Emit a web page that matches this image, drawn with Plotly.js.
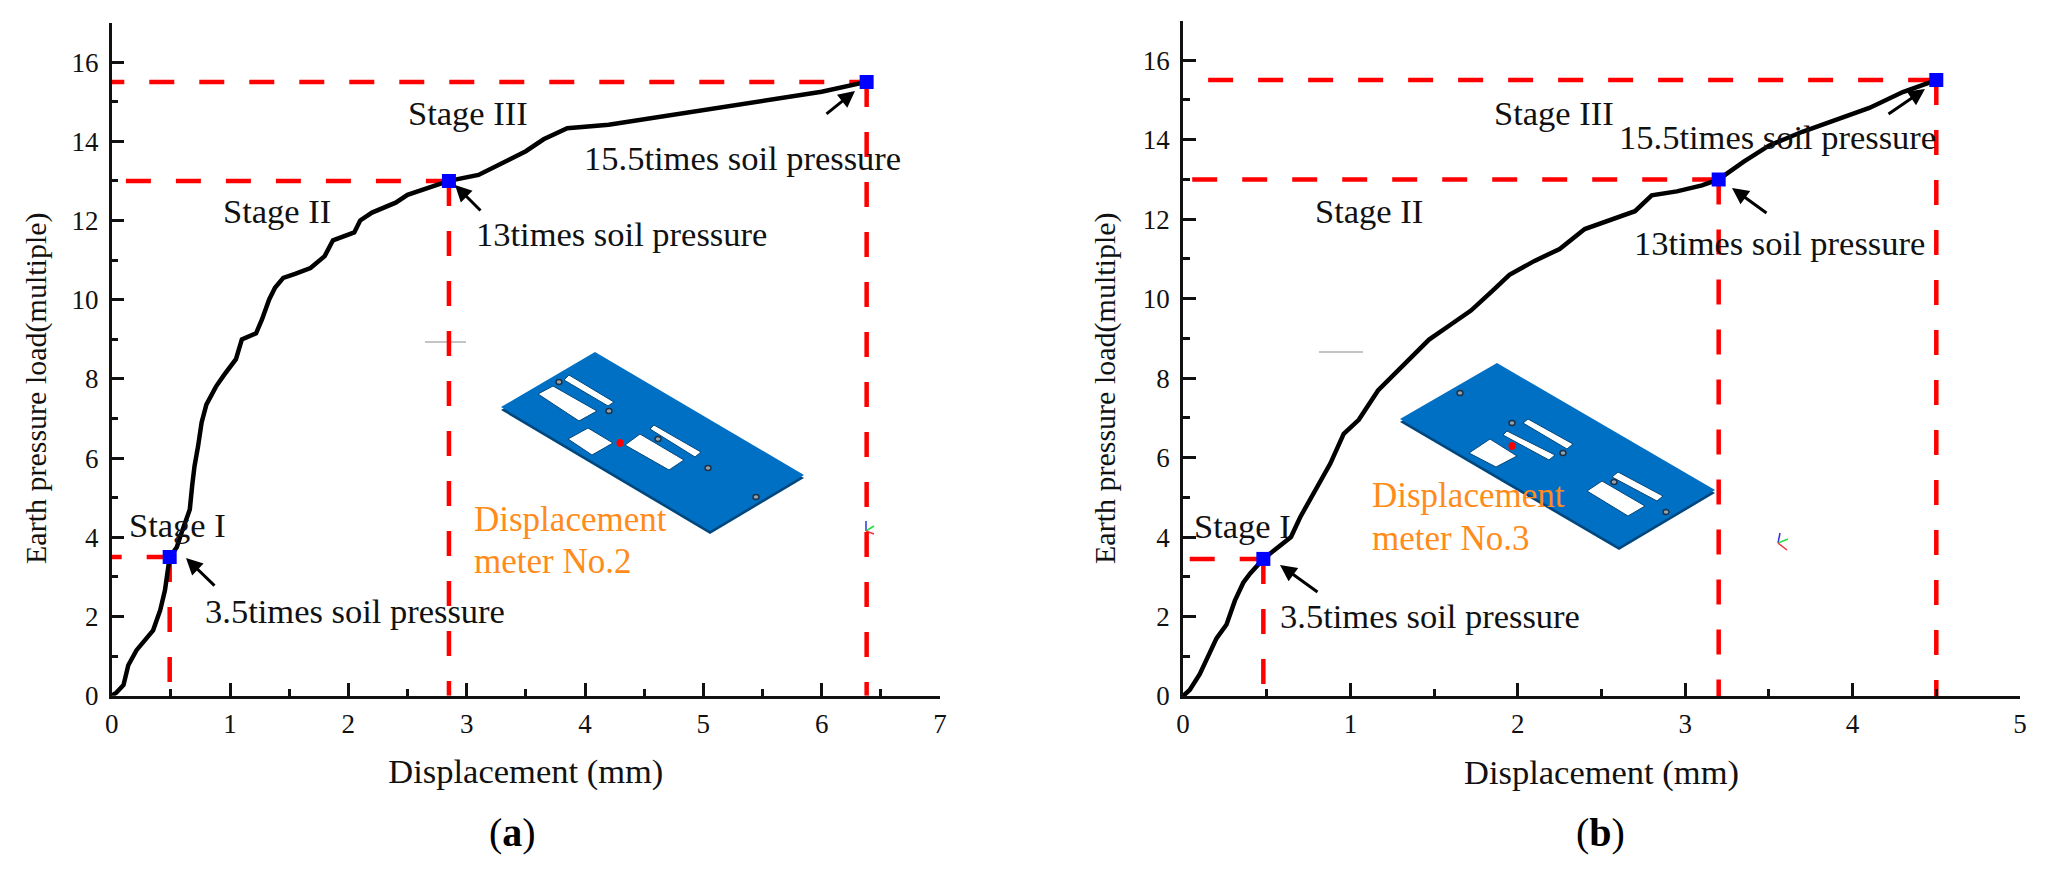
<!DOCTYPE html>
<html>
<head>
<meta charset="utf-8">
<script src="https://cdn.plot.ly/plotly-3.0.1.min.js"></script>
<style>
  html, body { margin: 0; padding: 0; background: #fff; }
  #chart { width: 2047px; height: 869px; }
</style>
</head>
<body>
<div id="chart"></div>
<script>
// panel (a) curve
const curveAx = [0, 0.04, 0.1, 0.14, 0.21, 0.28, 0.35, 0.41, 0.45, 0.49, 0.55, 0.6, 0.66, 0.68, 0.7, 0.73, 0.76, 0.8, 0.88, 0.95, 1.0, 1.05, 1.1, 1.22, 1.27, 1.33, 1.38, 1.45, 1.55, 1.68, 1.8, 1.87, 2.05, 2.1, 2.2, 2.4, 2.5, 2.7, 2.85, 3.1, 3.3, 3.5, 3.65, 3.85, 4.2, 4.6, 5, 5.5, 6, 6.38];
const curveAy = [0, 0.08, 0.27, 0.77, 1.15, 1.4, 1.65, 2.16, 2.66, 3.5, 3.75, 4.2, 4.7, 5.3, 5.8, 6.3, 6.9, 7.35, 7.8, 8.1, 8.3, 8.5, 9.0, 9.15, 9.5, 10.0, 10.3, 10.55, 10.65, 10.8, 11.1, 11.5, 11.7, 12.0, 12.2, 12.45, 12.65, 12.85, 13, 13.15, 13.45, 13.75, 14.05, 14.33, 14.42, 14.6, 14.8, 15, 15.25, 15.5];
const markAx = [0.49, 2.85, 6.38];
const markAy = [3.5, 13, 15.5];
const guideStartAx = [-0.127, 0.12, -0.105];

// panel (b) curve
const curveBx = [0, 0.04, 0.1, 0.15, 0.2, 0.26, 0.31, 0.36, 0.4, 0.48, 0.57, 0.645, 0.7, 0.82, 0.88, 0.96, 1.05, 1.165, 1.25, 1.35, 1.47, 1.6, 1.72, 1.85, 1.95, 2.1, 2.25, 2.4, 2.6, 2.7, 2.8, 2.95, 3.1, 3.2, 3.35, 3.5, 3.7, 3.9, 4.1, 4.3, 4.5];
const curveBy = [0, 0.15, 0.55, 1.0, 1.45, 1.8, 2.4, 2.85, 3.08, 3.45, 3.74, 4.0, 4.5, 5.42, 5.85, 6.6, 6.95, 7.69, 8.05, 8.45, 8.97, 9.35, 9.7, 10.2, 10.6, 10.95, 11.25, 11.75, 12.05, 12.2, 12.6, 12.7, 12.85, 13, 13.45, 13.85, 14.2, 14.5, 14.8, 15.2, 15.5];
const markBx = [0.48, 3.2, 4.5];
const markBy = [3.45, 13, 15.5];
const guideStartBx = [0.04, 0.055, 0.15];

const yTicks = [0, 2, 4, 6, 8, 10, 12, 14, 16];
const xTicksA = [0, 1, 2, 3, 4, 5, 6, 7];
const xTicksB = [0, 1, 2, 3, 4, 5];

// [text, x px, y px]
const labelsA = [
  ['Stage III', 468, 113],
  ['Stage II', 277, 211],
  ['Stage I', 177, 525],
  ['15.5times soil pressure', 742, 158],
  ['13times soil pressure', 621, 234],
  ['3.5times soil pressure', 355, 611],
];
const labelsB = [
  ['Stage III', 1554, 113],
  ['Stage II', 1369, 211],
  ['Stage I', 1242, 526],
  ['15.5times soil pressure', 1777, 137],
  ['13times soil pressure', 1779, 243],
  ['3.5times soil pressure', 1430, 616],
];
const orangeLabels = [
  ['Displacement', 472, 519],
  ['meter No.2', 472, 561],
  ['Displacement', 1370, 495],
  ['meter No.3', 1370, 538],
];
// [head x, head y, tail x, tail y] in px
const arrows = [
  [855, 91, 825, 115],
  [455, 185, 482, 212],
  [186, 558, 216, 587],
  [1925, 89, 1887, 115],
  [1732, 188, 1768, 214],
  [1280, 565, 1319, 593],
];

// plates, px outlines
const plateOutlines = [
  [[595, 352], [804, 475], [710, 531], [501, 407]],
  [[1497, 363], [1715, 490], [1619, 547], [1400, 419]],
];
const plateCuts = [
  [[569, 375], [614, 402], [608, 406], [564, 380]],
  [[553, 386], [597, 411], [579, 421], [538, 394]],
  [[588, 428], [613, 443], [592, 455], [568, 439]],
  [[640, 434], [684, 460], [669, 470], [625, 445]],
  [[654, 425], [701, 452], [695, 457], [650, 429]],
  [[1490, 439], [1517, 456], [1496, 467], [1469, 453]],
  [[1507, 431], [1555, 455], [1549, 460], [1503, 435]],
  [[1528, 419], [1573, 444], [1567, 449], [1523, 423]],
  [[1618, 472], [1663, 496], [1657, 501], [1612, 477]],
  [[1602, 481], [1645, 506], [1628, 516], [1587, 491]],
];
const plateHoles = [[559, 382], [609, 411], [658, 439], [708, 468], [756, 497], [1460, 393], [1512, 423], [1563, 453], [1614, 482], [1666, 512]];
const redDots = [[620, 443], [1512, 446]];
const greyMarks = [[425, 466, 342], [1319, 1363, 352]];
// [base x, base y, blue, green, red]
const triads = [
  [866, 531, [866, 521], [874, 526], [874, 534]],
  [1778, 543, [1780, 533], [1788, 539], [1787, 550]],
];
// [text, x px, y px]
const yTitles = [
  ['Earth pressure load(multiple)', 36, 388],
  ['Earth pressure load(multiple)', 1105, 388],
];

const W = 2047, H = 869;
const fx = x => x / W;
const fy = y => 1 - y / H;
const serif = 'Liberation Serif';

function polyPath(pts, dy) {
  return 'M' + pts.map(p => fx(p[0]) + ',' + fy(p[1] + (dy || 0))).join('L') + 'Z';
}

function panelTraces(cx, cy, mx, my, starts, xa, ya) {
  const traces = [];
  mx.forEach((x, i) => {
    traces.push({
      x: [starts[i], x], y: [my[i], my[i]], xaxis: xa, yaxis: ya, mode: 'lines',
      line: { color: '#ff0000', width: 4.5, dash: '25px,25px' },
    });
    traces.push({
      x: [x, x], y: [my[i], 0], xaxis: xa, yaxis: ya, mode: 'lines',
      line: { color: '#ff0000', width: 4.5, dash: '25px,25px' },
    });
  });
  traces.push({
    x: cx, y: cy, xaxis: xa, yaxis: ya, mode: 'lines',
    line: { color: '#000000', width: 4.5 },
  });
  traces.push({
    x: mx, y: my, xaxis: xa, yaxis: ya, mode: 'markers',
    marker: { color: '#0000ff', symbol: 'square', size: 14 },
  });
  return traces;
}

const data = [
  ...panelTraces(curveAx, curveAy, markAx, markAy, guideStartAx, 'x', 'y'),
  ...panelTraces(curveBx, curveBy, markBx, markBy, guideStartBx, 'x2', 'y2'),
];

const shapes = [];
plateOutlines.forEach(p => {
  shapes.push({ type: 'path', xref: 'paper', yref: 'paper', layer: 'below', path: polyPath(p, 3), fillcolor: '#00477d', line: { width: 0 } });
  shapes.push({ type: 'path', xref: 'paper', yref: 'paper', layer: 'below', path: polyPath(p), fillcolor: '#0070c4', line: { width: 0 } });
});
plateCuts.forEach(p => {
  shapes.push({ type: 'path', xref: 'paper', yref: 'paper', layer: 'below', path: polyPath(p), fillcolor: '#ffffff', line: { width: 1, color: '#00477d' } });
});
plateHoles.forEach(p => {
  shapes.push({
    type: 'circle', xref: 'paper', yref: 'paper', layer: 'below',
    x0: fx(p[0] - 3), x1: fx(p[0] + 3), y0: fy(p[1] + 2.5), y1: fy(p[1] - 2.5),
    fillcolor: '#8fa3b3', line: { width: 1.4, color: '#1f3042' },
  });
});
redDots.forEach(p => {
  shapes.push({
    type: 'circle', xref: 'paper', yref: 'paper', layer: 'below',
    x0: fx(p[0] - 3.5), x1: fx(p[0] + 3.5), y0: fy(p[1] + 4), y1: fy(p[1] - 4),
    fillcolor: '#ff0000', line: { width: 0 },
  });
});
greyMarks.forEach(g => {
  shapes.push({
    type: 'line', xref: 'paper', yref: 'paper', layer: 'below',
    x0: fx(g[0]), x1: fx(g[1]), y0: fy(g[2]), y1: fy(g[2]),
    line: { width: 2, color: '#c4c4c4' },
  });
});
triads.forEach(t => {
  [[t[2], '#3333dd'], [t[3], '#22dd44'], [t[4], '#ee3344']].forEach(arm => {
    shapes.push({
      type: 'line', xref: 'paper', yref: 'paper', layer: 'below',
      x0: fx(t[0]), y0: fy(t[1]), x1: fx(arm[0][0]), y1: fy(arm[0][1]),
      line: { width: 1.5, color: arm[1] },
    });
  });
});

const annotations = [];
[...labelsA, ...labelsB].forEach(l => {
  annotations.push({
    text: l[0], xref: 'paper', yref: 'paper', x: fx(l[1]), y: fy(l[2]),
    xanchor: 'center', yanchor: 'middle', showarrow: false,
    font: { family: serif, size: 34.5, color: '#111111' },
  });
});
orangeLabels.forEach(l => {
  annotations.push({
    text: l[0], xref: 'paper', yref: 'paper', x: fx(l[1]), y: fy(l[2]),
    xanchor: 'left', yanchor: 'middle', showarrow: false,
    font: { family: serif, size: 35, color: '#ff8c1a' },
  });
});
yTitles.forEach(t => {
  annotations.push({
    text: t[0], xref: 'paper', yref: 'paper', x: fx(t[1]), y: fy(t[2]), textangle: -90,
    xanchor: 'center', yanchor: 'middle', showarrow: false,
    font: { family: serif, size: 30, color: '#111111' },
  });
});
arrows.forEach(a => {
  annotations.push({
    text: '', xref: 'paper', yref: 'paper', x: fx(a[0]), y: fy(a[1]),
    axref: 'pixel', ayref: 'pixel', ax: a[2] - a[0], ay: a[3] - a[1],
    showarrow: true, arrowhead: 2, arrowsize: 1.1, arrowwidth: 3, arrowcolor: '#000000', standoff: 0,
  });
});
annotations.push({ text: '(<b>a</b>)', xref: 'paper', yref: 'paper', x: fx(512), y: fy(832), xanchor: 'center', yanchor: 'middle', showarrow: false, font: { family: serif, size: 40, color: '#000000' } });
annotations.push({ text: '(<b>b</b>)', xref: 'paper', yref: 'paper', x: fx(1600), y: fy(832), xanchor: 'center', yanchor: 'middle', showarrow: false, font: { family: serif, size: 40, color: '#000000' } });

function xAxis(domain, max, ticks, anchor) {
  return {
    domain, anchor, range: [0, max], tickvals: ticks, ticktext: ticks.map(String),
    showgrid: false, zeroline: false, showline: true, linecolor: '#111111', linewidth: 2.5,
    ticks: 'inside', ticklen: 13, tickwidth: 2.5, tickcolor: '#111111',
    ticklabelstandoff: 2,
    minor: { dtick: 0.5, ticks: 'inside', ticklen: 7, tickwidth: 2.5, tickcolor: '#111111', showgrid: false },
    tickfont: { family: serif, size: 27, color: '#111111' },
    title: { text: 'Displacement (mm)', standoff: 22, font: { family: serif, size: 34.5, color: '#111111' } },
  };
}
function yAxis(domain, anchor) {
  return {
    domain, anchor, range: [0, 17], tickvals: yTicks, ticktext: yTicks.map(String),
    showgrid: false, zeroline: false, showline: true, linecolor: '#111111', linewidth: 2.5,
    ticks: 'inside', ticklen: 13, tickwidth: 2.5, tickcolor: '#111111',
    ticklabelstandoff: 5,
    minor: { dtick: 1, ticks: 'inside', ticklen: 7, tickwidth: 2.5, tickcolor: '#111111', showgrid: false },
    tickfont: { family: serif, size: 27, color: '#111111' },
  };
}

const layout = {
  width: W,
  height: H,
  margin: { l: 0, r: 0, t: 0, b: 0 },
  paper_bgcolor: '#ffffff',
  plot_bgcolor: 'rgba(0,0,0,0)',
  showlegend: false,
  xaxis: xAxis([fx(111.7), fx(940)], 7, xTicksA, 'y'),
  yaxis: yAxis([fy(695.7), fy(22.5)], 'x'),
  xaxis2: xAxis([fx(1183), fx(2020)], 5, xTicksB, 'y2'),
  yaxis2: yAxis([fy(696), fy(20.5)], 'x2'),
  shapes,
  annotations,
};

Plotly.newPlot('chart', data, layout, { displayModeBar: false, responsive: false });
</script>
</body>
</html>
